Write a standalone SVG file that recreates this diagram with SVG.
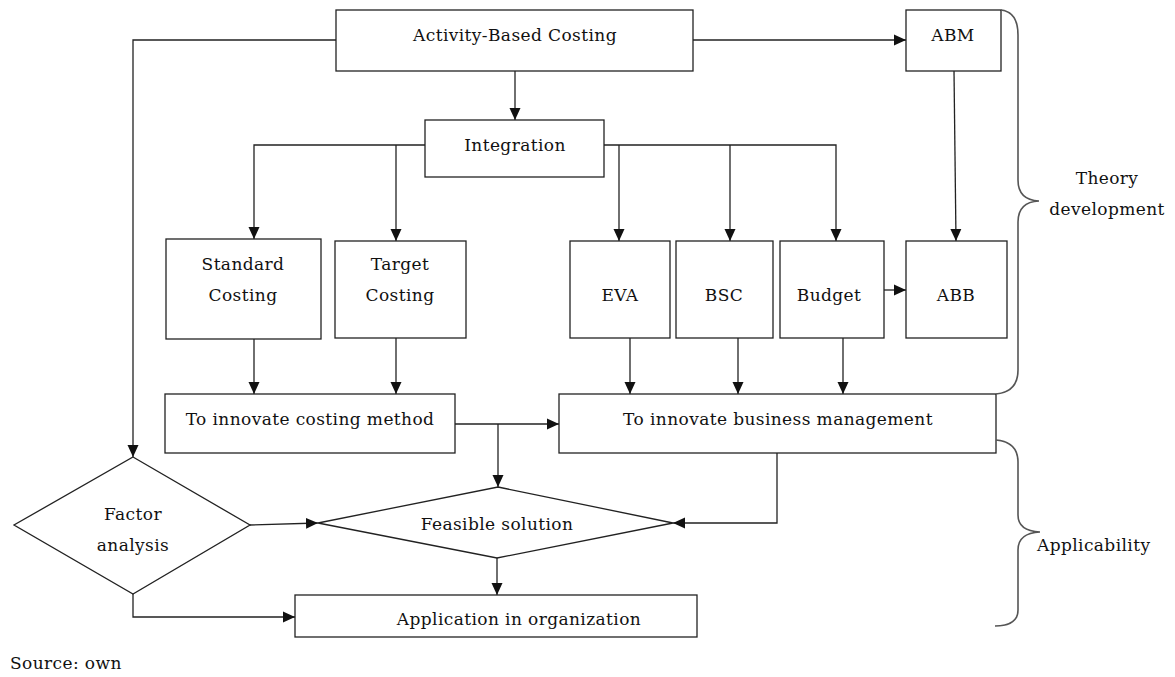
<svg xmlns="http://www.w3.org/2000/svg" width="1175" height="677" viewBox="0 0 1175 677">
  <style>
    .box { fill: #fff; stroke: #222; stroke-width: 1.3; }
    .wire { fill: none; stroke: #222; stroke-width: 1.3; }
    .brace { fill: none; stroke: #555; stroke-width: 1.6; }
    text { font-family: "DejaVu Serif", "Liberation Serif", serif; font-size: 17px; letter-spacing: 0.4px; fill: #111; text-anchor: middle; }
  </style>
  <defs>
    <marker id="arrow" viewBox="0 0 12 12" refX="12" refY="6" markerWidth="12" markerHeight="12" markerUnits="userSpaceOnUse" orient="auto">
      <path d="M0,0.5 L12,6 L0,11.5 Z" fill="#111"/>
    </marker>
  </defs>
  <rect width="1175" height="677" fill="#fff"/>

  <!-- connectors -->
  <g id="connectors">
    <path class="wire" d="M336,40 H133 V457" marker-end="url(#arrow)"/>
    <path class="wire" d="M693,40 H906" marker-end="url(#arrow)"/>
    <path class="wire" d="M515,71 V120" marker-end="url(#arrow)"/>
    <path class="wire" d="M425,145 H254 V239" marker-end="url(#arrow)"/>
    <path class="wire" d="M396,145 V241" marker-end="url(#arrow)"/>
    <path class="wire" d="M604,145 H836 V241" marker-end="url(#arrow)"/>
    <path class="wire" d="M619,145 V241" marker-end="url(#arrow)"/>
    <path class="wire" d="M730,145 V241" marker-end="url(#arrow)"/>
    <path class="wire" d="M954,71 L956,241" marker-end="url(#arrow)"/>
    <path class="wire" d="M884,290 H906" marker-end="url(#arrow)"/>
    <path class="wire" d="M254,339 V394" marker-end="url(#arrow)"/>
    <path class="wire" d="M396,338 V394" marker-end="url(#arrow)"/>
    <path class="wire" d="M630,338 V394" marker-end="url(#arrow)"/>
    <path class="wire" d="M738,338 V394" marker-end="url(#arrow)"/>
    <path class="wire" d="M843,338 V394" marker-end="url(#arrow)"/>
    <path class="wire" d="M455,424 H559" marker-end="url(#arrow)"/>
    <path class="wire" d="M498,424 V487" marker-end="url(#arrow)"/>
    <path class="wire" d="M777,453 V523 H673" marker-end="url(#arrow)"/>
    <path class="wire" d="M250,525 L318,523" marker-end="url(#arrow)"/>
    <path class="wire" d="M497,558 V595" marker-end="url(#arrow)"/>
    <path class="wire" d="M133,594 V617 H295" marker-end="url(#arrow)"/>
  </g>

  <g id="abc">
    <rect class="box" x="336" y="10" width="357" height="61"/>
    <text x="515" y="41">Activity-Based Costing</text>
  </g>
  <g id="abm">
    <rect class="box" x="906" y="10" width="95" height="61"/>
    <text x="953" y="41">ABM</text>
  </g>
  <g id="integration">
    <rect class="box" x="425" y="120" width="179" height="57"/>
    <text x="515" y="151">Integration</text>
  </g>
  <g id="standard-costing">
    <rect class="box" x="166" y="239" width="155" height="100"/>
    <text x="243" y="270">Standard</text>
    <text x="243" y="301">Costing</text>
  </g>
  <g id="target-costing">
    <rect class="box" x="335" y="241" width="131" height="97"/>
    <text x="400" y="270">Target</text>
    <text x="400" y="301">Costing</text>
  </g>
  <g id="eva">
    <rect class="box" x="570" y="241" width="100" height="97"/>
    <text x="620" y="301">EVA</text>
  </g>
  <g id="bsc">
    <rect class="box" x="676" y="241" width="97" height="97"/>
    <text x="724" y="301">BSC</text>
  </g>
  <g id="budget">
    <rect class="box" x="780" y="241" width="104" height="97"/>
    <text x="829" y="301">Budget</text>
  </g>
  <g id="abb">
    <rect class="box" x="906" y="241" width="101" height="97"/>
    <text x="956" y="301">ABB</text>
  </g>
  <g id="costing-method">
    <rect class="box" x="165" y="394" width="290" height="59"/>
    <text x="310" y="425">To innovate costing method</text>
  </g>
  <g id="business-management">
    <rect class="box" x="559" y="394" width="437" height="59"/>
    <text x="778" y="425">To innovate business management</text>
  </g>
  <g id="factor-analysis">
    <polygon class="box" points="133,457 250,525 133,594 14,525"/>
    <text x="133" y="520">Factor</text>
    <text x="133" y="551">analysis</text>
  </g>
  <g id="feasible-solution">
    <polygon class="box" points="498,487 673,523 497,558 318,523"/>
    <text x="497" y="530">Feasible solution</text>
  </g>
  <g id="application">
    <rect class="box" x="295" y="595" width="402" height="42"/>
    <text x="519" y="625">Application in organization</text>
  </g>

  <!-- braces -->
  <g id="theory-brace">
    <path class="brace" d="M1001,10 Q1018,12 1018,35 V180 Q1018,200 1039,201 Q1018,202 1018,222 V370 Q1018,392 996,394"/>
    <text x="1107" y="184">Theory</text>
    <text x="1107" y="215">development</text>
  </g>
  <g id="applicability-brace">
    <path class="brace" d="M996,440 Q1018,442 1018,462 V515 Q1018,531 1040,532 Q1018,533 1018,550 V610 Q1018,626 995,626"/>
    <text x="1037" y="551" style="text-anchor:start">Applicability</text>
  </g>

  <text x="10" y="669" style="text-anchor:start">Source: own</text>
</svg>
